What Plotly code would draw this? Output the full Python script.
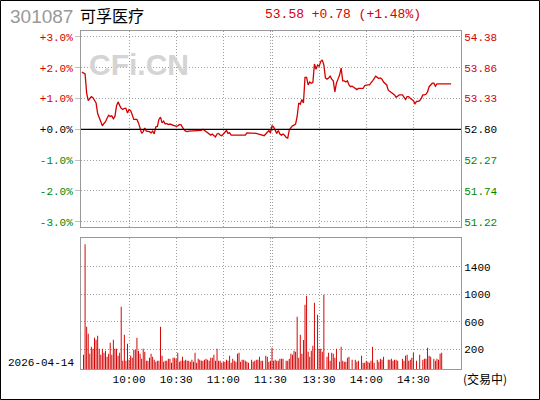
import plotly.graph_objects as go

# ---------------- data ----------------
CODE = "301087"
NAME = "可孚医疗"
DATE = "2026-04-14"
STATUS = "(交易中)"
WATERMARK = "CFi.CN"
PREV_CLOSE = 52.80
LAST = 53.58
CHANGE = 0.78
CHANGE_PCT = 1.48

# one price per minute slot (09:30 .. 11:30 then 13:00 ..)
PRICES = [
    53.78, 53.77, 53.75, 53.42, 53.29, 53.33, 53.36, 53.34, 53.30, 53.25,
    53.07, 52.99, 52.90, 52.86, 52.90, 52.93, 52.99, 53.04, 53.02, 53.03,
    52.98, 53.02, 53.20, 53.27, 53.21, 53.16, 53.14, 53.16, 53.16, 53.08,
    53.14, 53.12, 53.05, 52.97, 52.97, 52.97, 52.91, 52.82, 52.73, 52.76,
    52.82, 52.77, 52.77, 52.76, 52.74, 52.77, 52.72, 52.84, 52.85, 52.97,
    53.01, 52.91, 52.94, 52.89, 52.90, 52.88, 52.89, 52.88, 52.87, 52.86,
    52.85, 52.86, 52.88, 52.88, 52.82, 52.79, 52.77, 52.76, 52.77, 52.77,
    52.77, 52.77, 52.77, 52.77, 52.77, 52.77, 52.78, 52.80, 52.78, 52.75,
    52.74, 52.72, 52.70, 52.72, 52.69, 52.67, 52.72, 52.73, 52.70, 52.69,
    52.72, 52.76, 52.78, 52.73, 52.74, 52.70, 52.70, 52.69, 52.69, 52.69,
    52.69, 52.69, 52.69, 52.69, 52.70, 52.74, 52.74, 52.74, 52.74, 52.74,
    52.74, 52.73, 52.72, 52.71, 52.70, 52.69, 52.69, 52.72, 52.76, 52.78,
    52.74, 52.86, 52.84, 52.78, 52.73, 52.78, 52.72, 52.70, 52.72, 52.70,
    52.66, 52.65, 52.79, 52.83, 52.86, 52.87, 52.89, 53.02, 53.25, 53.23,
    53.31, 53.25, 53.69, 53.69, 53.56, 53.61, 53.59, 53.60, 53.92, 53.83,
    53.90, 53.88, 53.96, 53.99, 53.90, 53.68, 53.66, 53.68, 53.71, 53.66,
    53.63, 53.44, 53.59, 53.66, 53.73, 53.85, 53.63, 53.63, 53.61, 53.63,
    53.56, 53.53, 53.54, 53.52, 53.50, 53.48, 53.50, 53.50, 53.50, 53.50,
    53.55, 53.56, 53.56, 53.56, 53.59, 53.63, 53.67, 53.71, 53.69, 53.67,
    53.68, 53.66, 53.61, 53.59, 53.56, 53.47, 53.45, 53.44, 53.42, 53.39,
    53.35, 53.37, 53.39, 53.39, 53.39, 53.35, 53.31, 53.36, 53.36, 53.33,
    53.31, 53.29, 53.24, 53.28, 53.28, 53.29, 53.33, 53.39, 53.39, 53.40,
    53.44, 53.53, 53.56, 53.59, 53.59, 53.54, 53.58, 53.58, 53.59, 53.58,
    53.58, 53.58, 53.58, 53.58, 53.58, 53.58,
]

# one volume per minute slot (None = no bar)
VOLUMES = [
    None, 117, 1731, 526, 424, 132, 234, 205, 365, 336,
    394, 205, 117, 205, 147, 176, 88, 132, 292, 117,
    336, 205, 205, 103, 147, 817, 30, 409, 30, 278,
    44, 103, 74, 190, 190, 365, 176, 132, 59, 205,
    161, 30, 30, 74, 132, 88, 44, 15, 30, 30,
    526, 103, 15, 30, 30, 59, 59, 0, 74, 74,
    59, 147, 15, 30, 88, 30, 44, 30, 30, 15,
    44, 15, 147, 0, 59, 44, 30, 30, 44, 59,
    44, 30, 74, 74, 117, 30, 205, 30, 30, 0,
    15, 15, 44, 30, 103, 0, 59, 30, 15, 132,
    147, 15, 44, 44, 30, 15, 0, None, 44, 15,
    30, 44, 44, 88, 30, 30, None, 103, 88, 15,
    30, 220, 30, 44, 30, 30, 59, 59, 59, None,
    30, 30, 59, 132, 117, 176, 161, 671, 74, 409,
    132, 330, 846, 978, 161, 88, 176, 249, 876, None,
    700, 205, 205, 161, 992, None, 88, 147, 30, 147,
    132, 74, 205, None, 15, 234, 30, 15, 15, 74,
    88, None, 44, None, 44, 15, 30, None, 103, 0,
    0, 30, 15, 0, 30, 234, 0, None, 44, 15,
    59, 44, 88, None, None, 44, 44, 59, 30, 44,
    44, 30, None, None, 59, 30, 103, 117, 30, 44,
    74, 147, None, 30, None, 117, None, 44, 59, 59,
    220, 103, 88, None, 59, 30, 59, 44, 132, 147,
]

PCT_TICKS = [3, 2, 1, 0, -1, -2, -3]
PCT_LABELS = ["+3.0%", "+2.0%", "+1.0%", "+0.0%", "-1.0%", "-2.0%", "-3.0%"]
PRICE_LABELS = ["54.38", "53.86", "53.33", "52.80", "52.27", "51.74", "51.22"]
VOL_TICKS = [200, 600, 1000, 1400]
VOL_LABELS = ["200", "600", "1000", "1400"]
TIME_TICKS = [30, 60, 90, 120, 121, 151, 181, 211]
TIME_LABELS = ["10:00", "10:30", "11:00", "11:30", "", "13:30", "14:00", "14:30"]

# ---------------- style ----------------
RED = "#d40000"
GREEN = "#008800"
GRID = "#a0a0a0"
BOX = "#999999"
MONO = "Liberation Mono"
CJK = "Noto Sans CJK SC"

W, H = 540, 400
ML, MR, MT, MB = 81, 79, 31, 31
PW, PH = W - ML - MR, H - MT - MB

PCT_RANGE = [-3.17, 3.19]
X_RANGE = [-0.6, 241.3]
VOL_RANGE = [-92, 1818]


def px_x(p):
    return (p - ML) / PW


def px_y(p):
    return (H - MB - p) / PH


def colour(v):
    return RED if v > 0 else (GREEN if v < 0 else "#000000")


slots = list(range(len(PRICES)))
vslots = list(range(len(VOLUMES)))

fig = go.Figure()
fig.add_trace(go.Scatter(
    x=slots, y=PRICES, mode="lines", xaxis="x", yaxis="y",
    line=dict(color=RED, width=1.3), hoverinfo="skip", showlegend=False))
fig.add_trace(go.Scatter(
    x=[None], y=[None], xaxis="x", yaxis="y2", mode="lines",
    hoverinfo="skip", showlegend=False))
fig.add_trace(go.Bar(
    x=vslots, y=[None if v is None else v - VOL_RANGE[0] for v in VOLUMES],
    base=VOL_RANGE[0], xaxis="x2", yaxis="y3", width=0.62,
    marker=dict(color=RED, line=dict(width=0)), hoverinfo="skip", showlegend=False))

price_ticks = [PREV_CLOSE * (1 + t / 100) for t in PCT_TICKS]
price_range = [PREV_CLOSE * (1 + r / 100) for r in PCT_RANGE]

tickfont = dict(family=MONO, size=11, color="#000000")
common_x = dict(range=X_RANGE, tickmode="array", tickvals=TIME_TICKS,
                showgrid=True, gridcolor=GRID, griddash="1px,2px", gridwidth=1,
                zeroline=False, showline=True, mirror=True, linecolor=BOX,
                linewidth=1, ticks="", fixedrange=True)

fig.update_layout(
    width=W, height=H,
    margin=dict(l=ML, r=MR, t=MT, b=MB, autoexpand=False),
    paper_bgcolor="white", plot_bgcolor="white",
    showlegend=False,
    xaxis=dict(domain=[0, 1], anchor="y", showticklabels=False, **common_x),
    xaxis2=dict(domain=[0, 1], anchor="y3", ticktext=TIME_LABELS,
                tickfont=tickfont, **common_x),
    yaxis=dict(domain=[px_y(227), 1], anchor="x", side="right", range=price_range,
               tickmode="array", tickvals=price_ticks,
               ticktext=[f'<span style="color:{colour(t)}">{l}</span>'
                         for t, l in zip(PCT_TICKS, PRICE_LABELS)],
               tickfont=tickfont, showgrid=True, gridcolor=GRID,
               griddash="1px,2px", zeroline=False, showline=True, mirror=True,
               linecolor=BOX, ticks="", fixedrange=True),
    yaxis2=dict(overlaying="y", anchor="x", side="left", range=PCT_RANGE,
                tickmode="array", tickvals=PCT_TICKS,
                ticktext=[f'<span style="color:{colour(t)}">{l}</span>'
                          for t, l in zip(PCT_TICKS, PCT_LABELS)],
                tickfont=tickfont, showgrid=False, zeroline=False,
                ticks="outside", ticklen=5, tickcolor="#c0c0c0",
                showline=False, fixedrange=True),
    yaxis3=dict(domain=[0, px_y(238.3)], anchor="x2", side="right",
                range=VOL_RANGE, tickmode="array", tickvals=VOL_TICKS,
                ticktext=VOL_LABELS, tickfont=tickfont, showgrid=True,
                gridcolor=GRID, griddash="1px,2px", zeroline=False,
                showline=True, mirror=True, linecolor=BOX, ticks="",
                fixedrange=True),
)

# previous close line
fig.add_shape(type="line", xref="x domain", yref="y", x0=0, x1=1,
              y0=PREV_CLOSE, y1=PREV_CLOSE, line=dict(color="#000000", width=1.2))

# outer frame
fig.add_shape(type="rect", xref="paper", yref="paper",
              x0=px_x(0.5), x1=px_x(W - 0.5), y0=px_y(H - 0.5), y1=px_y(0.5),
              line=dict(color="#000000", width=1), layer="above")


def ann(text, x, y, xanchor, font):
    fig.add_annotation(text=text, xref="paper", yref="paper", x=px_x(x), y=px_y(y),
                       xanchor=xanchor, yanchor="middle", showarrow=False, font=font)


ann(WATERMARK, 139, 65, "center",
    dict(family="Liberation Sans", size=30, color="#d4d4d4", weight="bold"))
ann(CODE, 8, 16, "left", dict(family="Liberation Sans", size=19, color="#999999"))
ann(NAME, 78, 15, "left", dict(family=CJK, size=16, color="#000000"))
ann(f"{LAST:.2f} {CHANGE:+.2f} ({CHANGE_PCT:+.2f}%)", 263, 15, "left",
    dict(family=MONO, size=13, color=RED))
ann(DATE, 6, 363, "left", dict(family=MONO, size=11, color="#000000"))
ann(STATUS, 461, 378, "left", dict(family=CJK, size=12, color="#000000"))

fig.write_html("out.html",
               config={"displayModeBar": False, "staticPlot": True},
               post_script="document.body.style.margin='0';"
                           "document.body.style.overflow='hidden';")
